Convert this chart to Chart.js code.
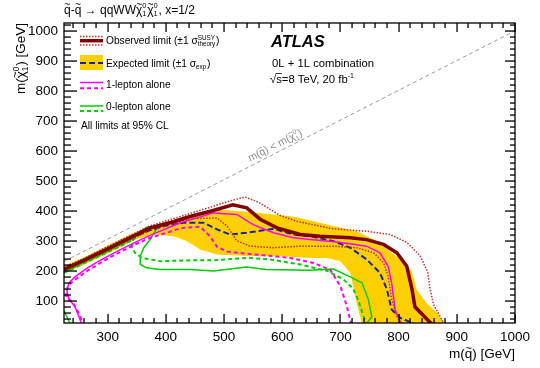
<!DOCTYPE html>
<html>
<head>
<meta charset="utf-8">
<script src="https://cdn.jsdelivr.net/npm/chart.js@4.4.0/dist/chart.umd.min.js"></script>
<style>
  html, body { margin: 0; padding: 0; background: #fff; }
  canvas { display: block; }
</style>
</head>
<body>
<canvas id="c" width="540" height="368"></canvas>
<script>
// axes
const xTicks = [300, 400, 500, 600, 700, 800, 900, 1000];
const yTicks = [100, 200, 300, 400, 500, 600, 700, 800, 900, 1000];

// contours: [m(squark), m(neutralino)] in GeV
const observed = [[225,205],[260,236],[300,273],[340,312],[373,343],[410,362],[440,380],[480,400],[515,420],[539,410],[562,372],[591,343],[631,321],[665,315],[717,310],[745,304],[774,288],[797,260],[814,215],[823,138],[828,80],[858,20]];
const obsUp = [[225,212],[260,242],[300,281],[340,319],[373,350],[420,378],[470,408],[505,430],[536,446],[560,428],[596,385],[625,365],[687,340],[745,332],[785,321],[814,295],[837,250],[850,195],[854,140],[860,88],[874,38],[880,20]];
const obsDown = [[225,199],[260,229],[300,266],[340,304],[373,334],[410,356],[442,374],[488,376],[505,349],[522,300],[545,282],[585,277],[631,282],[687,282],[728,277],[757,260],[774,227],[782,182],[788,104],[797,49],[805,20]];
const expected = [[225,203],[260,234],[300,271],[340,309],[373,336],[400,350],[430,360],[465,360],[488,338],[510,321],[539,327],[585,340],[619,321],[648,315],[688,299],[717,277],[745,238],[768,193],[780,138],[788,71],[803,43],[831,20]];
const bandUpper = [[225,217],[260,245],[300,284],[340,322],[373,349],[420,373],[459,396],[493,404],[562,393],[614,382],[631,376],[688,349],[728,332],[757,304],[785,265],[808,232],[822,200],[831,138],[848,93],[866,60],[882,15]];
const bandLower = [[225,191],[260,221],[300,258],[350,306],[379,321],[413,315],[436,299],[459,271],[488,254],[539,249],[596,249],[648,243],[677,243],[700,232],[717,193],[722,149],[728,93],[738,15]];
const lep1Obs = [[256,15],[253,35],[244,80],[233,108],[230,135],[233,158],[244,180],[264,208],[287,235],[321,270],[356,303],[385,328],[425,360],[482,393],[522,388],[550,354],[585,327],[619,310],[648,304],[694,296],[745,282],[768,260],[782,215],[788,160],[794,71],[803,30],[808,15]];
const lep1Exp = [[260,15],[250,60],[240,95],[230,108],[228,125],[232,150],[245,172],[265,200],[304,245],[344,285],[373,310],[407,330],[425,342],[459,347],[476,315],[488,280],[505,264],[545,256],[614,243],[654,226],[682,204],[700,149],[711,82],[717,35],[719,15]];
const lep0Obs = [[225,195],[260,228],[300,265],[340,305],[367,345],[385,343],[373,304],[362,277],[356,249],[356,221],[367,210],[390,204],[442,204],[482,199],[539,213],[573,204],[648,202],[688,206],[717,180],[737,160],[748,104],[754,47],[745,25],[742,15]];
const lep0Exp = [[225,193],[260,226],[300,262],[340,300],[364,338],[350,315],[344,304],[342,277],[347,260],[359,243],[390,232],[442,235],[482,235],[539,243],[579,238],[631,221],[654,210],[677,200],[705,172],[722,140],[731,100],[742,35],[744,15]];
const lep0Corner = [[225,68],[229,50],[238,15]];
const diagonal = [[225,231],[1000,1000]];

const FONT = '"Liberation Sans", Arial, Helvetica, sans-serif';
const pts = a => a.map(p => ({ x: p[0], y: p[1] }));

function line(data, color, width, dash) {
  return { data: pts(data), showLine: true, borderColor: color, borderWidth: width,
           borderDash: dash || [], pointRadius: 0, fill: false, tension: 0 };
}

// text with sub/superscripts and tildes
function rich(ctx, x, y, parts, size, draw = true) {
  let cx = x;
  for (const p of parts) {
    if (typeof p === 'string') {
      ctx.font = size + 'px ' + FONT;
      if (draw) ctx.fillText(p, cx, y);
      cx += ctx.measureText(p).width;
    } else if (p.tilde) {
      ctx.font = size + 'px ' + FONT;
      const w = ctx.measureText(p.tilde).width;
      if (draw) {
        ctx.fillText(p.tilde, cx, y);
        ctx.font = (size * 0.85) + 'px ' + FONT;
        const tw = ctx.measureText('~').width;
        ctx.fillText('~', cx + w / 2 - tw / 2, y - size * 0.45);
      }
      cx += w;
    } else {
      const s = size * 0.62;
      ctx.font = s + 'px ' + FONT;
      let w = 0;
      if (p.sup) { if (draw) ctx.fillText(p.sup, cx, y - size * 0.42); w = Math.max(w, ctx.measureText(p.sup).width); }
      if (p.sub) { if (draw) ctx.fillText(p.sub, cx, y + size * 0.24); w = Math.max(w, ctx.measureText(p.sub).width); }
      cx += w + 0.8;
    }
  }
  return cx - x;
}

const decor = {
  id: 'decor',
  afterDraw(chart) {
    const { ctx, chartArea: a, scales } = chart;
    const sx = scales.x, sy = scales.y;
    ctx.save();
    ctx.setLineDash([]);
    ctx.textAlign = 'left';
    ctx.textBaseline = 'alphabetic';

    // inward ticks on all four sides
    ctx.fillStyle = '#000';
    const L0 = Math.round(a.left), R0 = Math.round(a.right);
    const T0 = Math.round(a.top), B0 = Math.round(a.bottom);
    for (let v = 240; v <= 1000; v += 20) {
      const px = Math.round(sx.getPixelForValue(v));
      const len = v % 100 === 0 ? 9 : 5;
      ctx.fillRect(px - 0.6, B0 - len, 1.3, len);
      ctx.fillRect(px - 0.6, T0, 1.3, len);
    }
    for (let v = 40; v <= 1020; v += 20) {
      const py = Math.round(sy.getPixelForValue(v));
      const big = v % 100 === 0;
      ctx.fillRect(L0, py - 0.6, big ? 13 : 7, 1.3);
      ctx.fillRect(R0 - (big ? 10 : 5), py - 0.6, big ? 10 : 5, 1.3);
    }
    ctx.strokeStyle = '#000';
    ctx.lineWidth = 1.3;
    ctx.strokeRect(a.left, a.top, a.right - a.left, a.bottom - a.top);

    // title
    rich(ctx, 64, 13.5, [{ tilde: 'q' }, '-', { tilde: 'q' }, ' \u2192 qqWW', { tilde: '\u03c7' }, { sub: '1', sup: '0' },
      { tilde: '\u03c7' }, { sub: '1', sup: '0' }, ', x=1/2'], 12);

    // axis titles
    const xt = [ 'm(', { tilde: 'q' }, ') [GeV]' ];
    const xw = rich(ctx, 0, 0, xt, 13.5, false);
    rich(ctx, a.right - xw, 358, xt, 13.5);
    const yt = [ 'm(', { tilde: '\u03c7' }, { sub: '1', sup: '0' }, ') [GeV]' ];
    const yw = rich(ctx, 0, 0, yt, 13.5, false);
    ctx.save();
    ctx.translate(25, a.top + yw);
    ctx.rotate(-Math.PI / 2);
    rich(ctx, 0, 0, yt, 13.5);
    ctx.restore();

    // ATLAS block
    ctx.font = 'italic bold 16.5px ' + FONT;
    ctx.fillText('ATLAS', 271, 46.5);
    rich(ctx, 272, 67, ['0L + 1L combination'], 11.3);
    rich(ctx, 270, 83, ['\u221as=8 TeV, 20 fb', { sup: '-1' }], 11.3);
    ctx.font = '11.3px ' + FONT;
    const rw = ctx.measureText('\u221a').width;
    ctx.lineWidth = 0.8;
    ctx.beginPath();
    ctx.moveTo(270 + rw - 0.5, 73.5); ctx.lineTo(270 + rw + ctx.measureText('s').width, 73.5);
    ctx.stroke();

    // diagonal label
    const p0x = sx.getPixelForValue(diagonal[0][0]), p0y = sy.getPixelForValue(diagonal[0][1]);
    const p1x = sx.getPixelForValue(diagonal[1][0]), p1y = sy.getPixelForValue(diagonal[1][1]);
    const ang = Math.atan2(p1y - p0y, p1x - p0x);
    const t = (548 - diagonal[0][0]) / (diagonal[1][0] - diagonal[0][0]);
    ctx.save();
    ctx.translate(p0x + t * (p1x - p0x), p0y + t * (p1y - p0y));
    ctx.rotate(ang);
    ctx.fillStyle = '#8a8a8a';
    rich(ctx, 0, -4, ['m(', { tilde: 'q' }, ') < m(', { tilde: '\u03c7' }, { sub: '1', sup: '0' }, ')'], 10.5);
    ctx.restore();

    // legend
    const lx0 = 80, lx1 = 103;
    const seg = (yy, color, w, dash) => {
      ctx.save(); ctx.strokeStyle = color; ctx.lineWidth = w; ctx.setLineDash(dash || []);
      ctx.beginPath(); ctx.moveTo(lx0, yy); ctx.lineTo(lx1, yy); ctx.stroke(); ctx.restore();
    };
    seg(36.5, '#c0302a', 1.5, [1.5, 1.5]);
    seg(45, '#c0302a', 1.5, [1.5, 1.5]);
    seg(40.7, '#800000', 3.5);
    ctx.fillStyle = '#ffd000';
    ctx.fillRect(lx0, 55, lx1 - lx0, 15);
    seg(63, '#1c2494', 2, [6, 3]);
    seg(82.5, '#ff00ff', 1.5);
    seg(88.3, '#ff00ff', 2, [4, 3]);
    seg(106, '#00cc00', 1.5);
    seg(111, '#00cc00', 2, [4, 3]);
    ctx.fillStyle = '#000';
    const fs = 10.2;
    rich(ctx, 106, 44, ['Observed limit (\u00b11 \u03c3', { sup: 'SUSY', sub: 'theory' }, ')'], fs);
    rich(ctx, 106, 66.5, ['Expected limit (\u00b11 \u03c3', { sub: 'exp' }, ')'], fs);
    rich(ctx, 106, 87.5, ['1-lepton alone'], fs);
    rich(ctx, 106, 110, ['0-lepton alone'], fs);
    rich(ctx, 81, 129, ['All limits at 95% CL'], fs);
    ctx.restore();
  }
};

const band = bandUpper.concat(bandLower.slice().reverse());

new Chart(document.getElementById('c').getContext('2d'), {
  type: 'scatter',
  data: {
    datasets: [
      line(observed, '#800000', 3.5),
      line(obsUp, '#c0302a', 1.5, [1.5, 1.5]),
      line(obsDown, '#c0302a', 1.5, [1.5, 1.5]),
      line(lep1Obs, '#ff00ff', 1.5),
      line(lep1Exp, '#ff00ff', 2, [4, 3]),
      line(expected, '#1c2494', 2, [6, 3]),
      line(lep0Obs, '#00cc00', 1.5),
      line(lep0Exp, '#00cc00', 2, [4, 3]),
      line(lep0Corner, '#00cc00', 1.5),
      line(diagonal, '#9a9a9a', 1, [4, 3]),
      { data: pts(band), showLine: true, borderWidth: 0, pointRadius: 0,
        backgroundColor: '#ffd000', fill: 'shape', tension: 0 }
    ]
  },
  options: {
    responsive: false,
    animation: false,
    layout: { padding: { left: 0, right: 25, top: 23, bottom: 0 } },
    plugins: { legend: { display: false }, tooltip: { enabled: false } },
    scales: {
      x: {
        type: 'linear', min: 225, max: 1000,
        afterFit: s => { s.height = 45; },
        afterBuildTicks: s => { s.ticks = xTicks.map(v => ({ value: v })); },
        grid: { display: false, drawTicks: false },
        border: { display: false },
        ticks: { color: '#000', padding: 6, maxRotation: 0, autoSkip: false,
                 font: { family: FONT, size: 13.5 }, callback: v => String(v) }
      },
      y: {
        type: 'linear', min: 26, max: 1026,
        afterFit: s => { s.width = 64; },
        afterBuildTicks: s => { s.ticks = yTicks.map(v => ({ value: v })); },
        grid: { display: false, drawTicks: false },
        border: { display: false },
        ticks: { color: '#000', padding: 6, autoSkip: false,
                 font: { family: FONT, size: 13.5 }, callback: v => String(v) }
      }
    }
  },
  plugins: [decor]
});
</script>
</body>
</html>
